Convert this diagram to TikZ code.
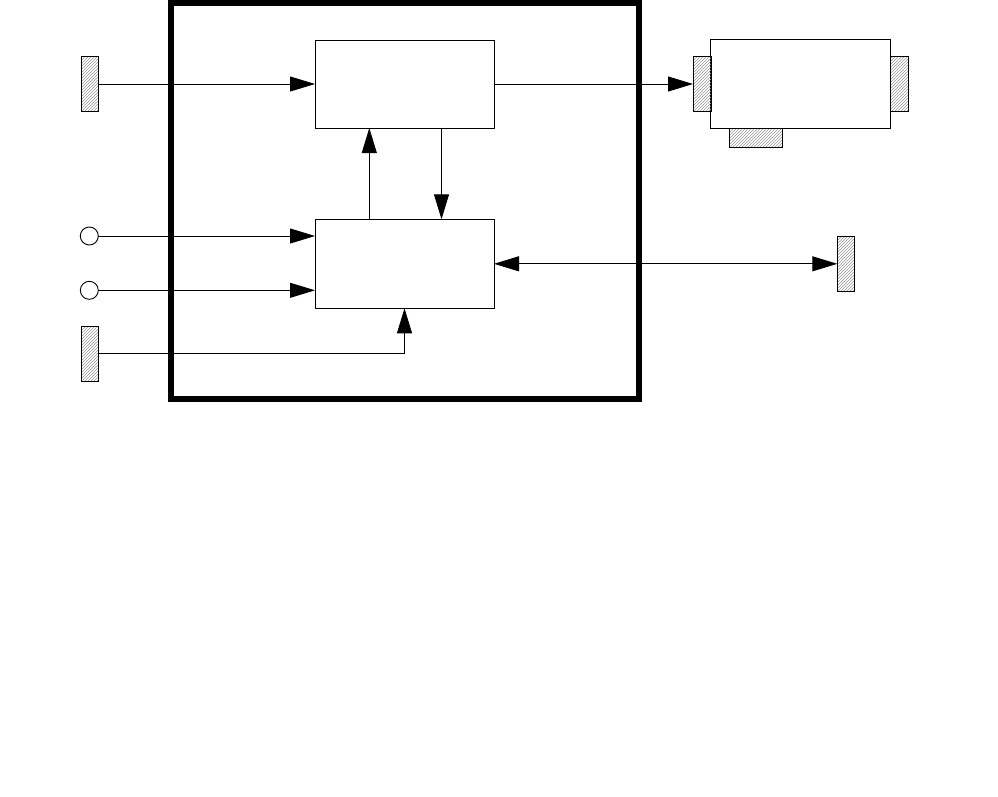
\documentclass[tikz,border=0pt]{standalone}
\usetikzlibrary{arrows.meta,patterns}
\begin{document}
\begin{tikzpicture}[x=1pt,y=-1pt,
  thin line/.style={line width=0.9pt},
  block/.style={draw,thin line,minimum width=179pt,minimum height=88pt,inner sep=0pt,outer sep=0pt},
  hatchbox/.style={draw,thin line,pattern=north east lines,pattern color=gray!80,inner sep=0pt,outer sep=0pt},
  vhatch/.style={hatchbox,minimum width=17.4pt,minimum height=55pt},
  hhatch/.style={hatchbox,minimum width=53pt,minimum height=19pt},
  port/.style={draw,thin line,circle,minimum size=18pt,inner sep=0pt,outer sep=0pt},
  conn/.style={thin line,-{Triangle[length=25pt,width=15pt]}},
  dconn/.style={thin line,{Triangle[length=25pt,width=15pt]}-{Triangle[length=25pt,width=15pt]}}
]
\useasboundingbox (0,0) rectangle (998,796);
% outer frame
\node[draw,line width=6pt,minimum width=467.4pt,minimum height=396pt,inner sep=0pt] (frame) at (405,201) {};
% blocks
\node[block] (top) at (404.5,84) {};
\node[block,minimum height=89pt] (bot) at (404.5,263.8) {};
\node[block,minimum width=180pt,minimum height=89pt] (dev) at (800.7,84) {};
% hatched terminals
\node[vhatch] (h1) at (90,84) {};
\node[vhatch] (h3) at (90,353.8) {};
\node[vhatch] (h4) at (846,263.8) {};
\node[vhatch,minimum width=18pt] (dl) at (702,84) {};
\node[vhatch,minimum width=18pt] (dr) at (899.7,84) {};
\node[hhatch] (db) at (755.8,138) {};
% ports
\node[port] (c1) at (89.3,236) {};
\node[port] (c2) at (89.3,290.3) {};
% connectors
\draw[conn] (h1.east) -- (top.west |- h1.east);
\draw[conn] (top.east) -- (dl.west);
\draw[conn] (c1.east) -- (bot.west |- c1.east);
\draw[conn] (c2.east) -- (bot.west |- c2.east);
\draw[conn] (h3.east) -| (bot.south);
\coordinate (upx) at (369.3,0);
\coordinate (downx) at (441.5,0);
\draw[conn] (bot.north -| upx) -- (top.south -| upx);
\draw[conn] (top.south -| downx) -- (bot.north -| downx);
\draw[dconn] (bot.east) -- (h4.west);
\end{tikzpicture}
\end{document}
